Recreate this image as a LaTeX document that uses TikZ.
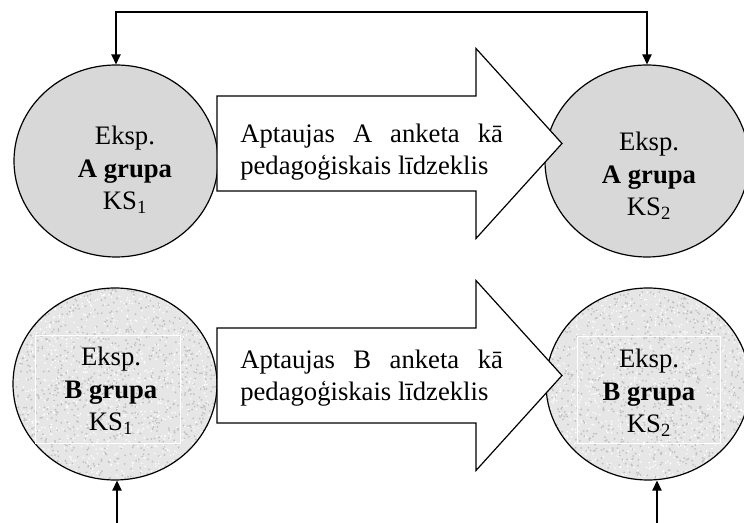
\documentclass[tikz,border=0pt]{standalone}
\usepackage{fontspec}
\setmainfont{Liberation Serif}
\usetikzlibrary{arrows.meta,positioning,calc,shapes.geometric}
\definecolor{ink}{RGB}{0,0,0}
\definecolor{grpA}{RGB}{216,216,216}
\definecolor{grpB}{RGB}{230,230,230}
\definecolor{speck}{RGB}{192,192,192}
\tikzset{
  grp/.style={ellipse,draw=ink,line width=0.9pt,minimum width=153pt,minimum height=144pt,inner sep=0pt},
  grain/.style={grp,fill=grpB,path picture={
      \foreach \k in {1,...,1100}{
        \fill[speck] ($(path picture bounding box.center)+(rand*104,rand*98)$) circle[radius=0.75pt];
        \fill[white] ($(path picture bounding box.center)+(rand*104,rand*98)$) circle[radius=0.65pt];}}},
  lbl/.style={font=\fontsize{20}{24.5}\selectfont,align=center,inner sep=0pt},
  flow/.style={draw=ink,fill=white,line width=0.9pt,line join=miter},
  ftxt/.style={font=\fontsize{20}{24}\selectfont,text width=197pt,align=justify,inner sep=0pt,anchor=north west},
  conn/.style={line width=1.1pt,ink},
  txtbox/.style={draw=white,line width=0.6pt},
}
\newcommand{\blockarrow}[1]{%
  \draw[flow] (217,#1) ++(0,-47.5) -- ++(259,0) -- ++(0,-47.5) -- ++(86,95)
    -- ++(-86,95) -- ++(0,-47.5) -- ++(-259,0) -- cycle;}

\begin{document}
\begin{tikzpicture}[x=0.75pt,y=-0.75pt,>={Triangle[length=7.5pt,width=7pt]}]
  \useasboundingbox (0,0) rectangle (744,523);
  \pgfmathsetseed{7}
  % groups before and after
  \node[grp,fill=grpA] (cA1) at (116,161) {};
  \node[grp,fill=grpA] (cA2) at (647,161) {};
  \node[grain] (cB1) at (115,384) {};
  \node[grain] (cB2) at (648,384) {};
  \draw[txtbox] (35,335) rectangle (180,443);
  \draw[txtbox] (577,336) rectangle (720,443);
  \node[lbl] (tA1) at ($(cA1)+(9,9)$) {Eksp.\\\textbf{A grupa}\\KS\textsubscript{1}};
  \node[lbl] (tA2) at ($(cA2)+(2,15)$) {Eksp.\\\textbf{A grupa}\\KS\textsubscript{2}};
  \node[lbl] (tB1) at ($(cB1)+(-4,7)$) {Eksp.\\\textbf{B grupa}\\KS\textsubscript{1}};
  \node[lbl] (tB2) at ($(cB2)+(1,9)$) {Eksp.\\\textbf{B grupa}\\KS\textsubscript{2}};
  % block arrows
  \blockarrow{143.5}
  \blockarrow{375.5}
  \node[ftxt] (fA) at (240,123.5) {Aptaujas A anketa kā\break pedagoģiskais līdzeklis};
  \node[ftxt] (fB) at (240,349.5) {Aptaujas B anketa kā\break pedagoģiskais līdzeklis};
  % connectors
  \coordinate (tp) at (0,12);
  \coordinate (bl) at (117,523);
  \coordinate (br) at (657,523);
  \draw[conn,<->] (cA1.north) -- (cA1.north |- tp) -- (cA2.north |- tp) -- (cA2.north);
  \draw[conn,->] (bl) -- (bl |- cB1.south);
  \draw[conn,->] (br) -- (br |- cB2.south);
\end{tikzpicture}
\end{document}
